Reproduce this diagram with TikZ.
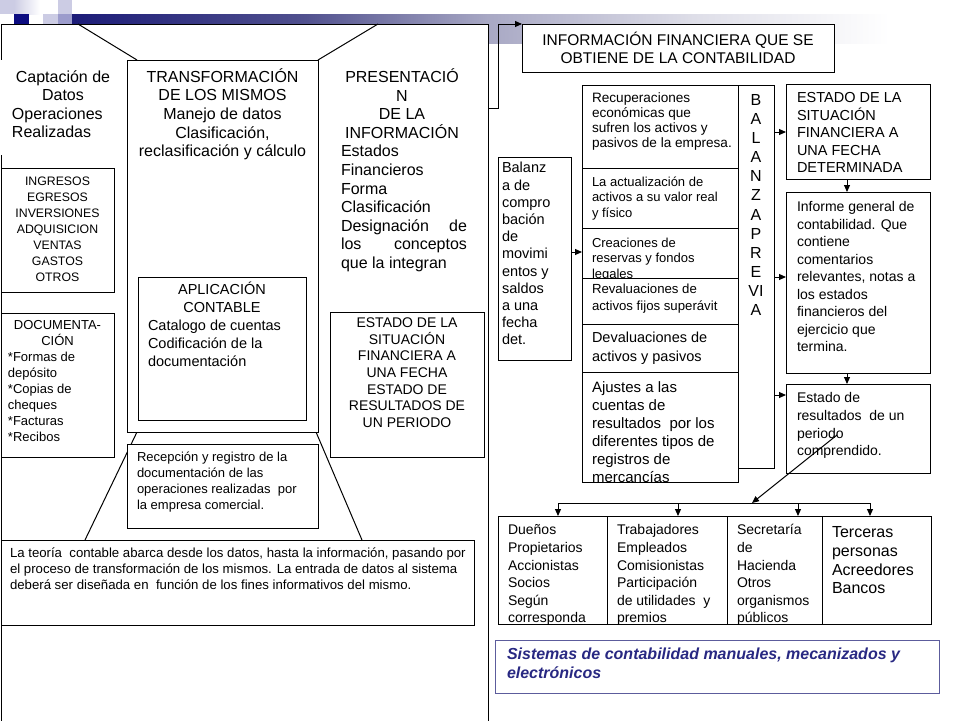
\documentclass[tikz,border=0pt]{standalone}
\usepackage{fontspec}
\setmainfont{Liberation Sans}
\usetikzlibrary{arrows.meta}
\definecolor{navyd}{RGB}{12,12,128}
\definecolor{lav}{RGB}{204,204,228}
\definecolor{lavm}{RGB}{156,156,204}
\definecolor{sisb}{RGB}{92,92,156}
\definecolor{sist}{RGB}{40,40,130}
\definecolor{navyA}{RGB}{28,28,120}
\definecolor{barB}{RGB}{80,80,142}
\definecolor{barC}{RGB}{168,168,196}
\definecolor{barD}{RGB}{222,222,232}
\pgfdeclarehorizontalshading{barshade}{100bp}{color(0bp)=(navyA); color(25bp)=(navyA); color(38bp)=(barB); color(48.4bp)=(barC); color(60bp)=(barD); color(71bp)=(white); color(100bp)=(white)}
\newcommand\fz[2]{\fontsize{#1}{#2}\selectfont}
\newcommand\st{\rule{0pt}{1em}}
\newcommand\bxn[6][]{\node[bx,#1,minimum width={(#5-#3)*1pt},minimum height={(#6-#4)*1pt}] (#2) at (#3,#4) {};}
\begin{document}
\begin{tikzpicture}[x=1pt,y=-1pt,
  bx/.style={draw=black,line width=1pt,fill=white,inner sep=0pt,outer sep=0pt,anchor=north west,rectangle},
  tl/.style={inner sep=0pt,outer sep=0pt,align=left,anchor=north west},
  tc/.style={inner sep=0pt,outer sep=0pt,align=center,anchor=north},
  ln/.style={line width=1pt},
  arr/.style={line width=1pt,-{Triangle[length=7pt,width=6pt]}}]
\useasboundingbox (0,0) rectangle (960,720);
% header decoration
\fill[lav] (0,0) rectangle (14,14);
\shade[left color=lav,right color=white] (14,0) rectangle (40,14);
\fill[navyd] (14,14) rectangle (29,24);
\fill[lav] (43,14) rectangle (58,24);
\fill[lav] (58,0) rectangle (72,14);
\fill[lavm] (58,14) rectangle (72,24);
\shade[shading=barshade] (72,14) rectangle (960,43);
% left panel
\bxn{panel}{1}{24}{488}{740}
\coordinate (t1) at (78,24); \coordinate (t2) at (137,60);
\coordinate (t3) at (378,24); \coordinate (t4) at (318,60);
\coordinate (b1) at (137,432); \coordinate (b2) at (85,540);
\coordinate (b3) at (316,432); \coordinate (b4) at (362,540);
\draw[ln] (t1) -- (t2);
\draw[ln] (t3) -- (t4);
\draw[ln] (b1) -- (b2);
\draw[ln] (b3) -- (b4);
\fill[white] (0,60) rectangle (122,155);
\node[tl,font=\fz{16}{18.5}] (capt) at (12,66.4) {\st\makebox[102pt]{Captación de}\\\makebox[102pt]{Datos}\\Operaciones\\Realizadas};
\bxn{trans}{127}{60}{318}{432}
\node[tc,font=\fz{16}{18.7}] (transT) at (222.5,66.1) {\st TRANSFORMACIÓN\\DE LOS MISMOS\\Manejo de datos\\Clasificación,\\reclasificación y cálculo};
\node[tl,font=\fz{16}{18.6}] (pres) at (341,66.4) {\st\makebox[122pt]{PRESENTACIÓ}\\\makebox[122pt]{N}\\\makebox[122pt]{DE LA}\\\makebox[122pt]{INFORMACIÓN}\\Estados\\Financieros\\Forma\\Clasificación\\\makebox[126pt][s]{Designación\hfill de}\\\makebox[126pt][s]{los\hfill conceptos}\\que la integran};
\bxn{aplic}{138}{277}{306}{420}
\node[tl,font=\fz{14.5}{18}] (aplT) at (148,280.4) {\st\makebox[148pt]{APLICACIÓN}\\\makebox[148pt]{CONTABLE}\\Catalogo de cuentas\\Codificación de la\\documentación};
\bxn{ingr}{1}{168}{114}{292}
\node[tc,font=\fz{12.3}{16}] (ingrT) at (57.5,172.9) {\st INGRESOS\\EGRESOS\\INVERSIONES\\ADQUISICION\\VENTAS\\GASTOS\\OTROS};
\bxn{docu}{1}{313}{114}{457}
\node[tl,font=\fz{13}{16}] (docuT) at (8,316.4) {\st\makebox[99pt]{DOCUMENTA-}\\\makebox[99pt]{CIÓN}\\*Formas de\\depósito\\*Copias de\\cheques\\*Facturas\\*Recibos};
\bxn{estL}{330}{312}{484}{457}
\node[tc,font=\fz{14}{16.7}] (estLT) at (407,313.3) {\st ESTADO DE LA\\SITUACIÓN\\FINANCIERA A\\UNA FECHA\\ESTADO DE\\RESULTADOS DE\\UN PERIODO};
\bxn{recep}{127}{444}{318}{528}
\node[tl,font=\fz{13}{16}] (recepT) at (137,448.4) {\st Recepción y registro de la\\documentación de las\\operaciones realizadas~ por\\la empresa comercial.};
\bxn{teoria}{1}{540}{474}{625}
\node[tl,font=\fz{13.2}{16}] (teoriaT) at (10,544.3) {\st La teoría~ contable abarca desde los datos, hasta la información, pasando por\\el proceso de transformación de los mismos. La entrada de datos al sistema\\deberá ser diseñada en~ función de los fines informativos del mismo.};
% right side
\bxn{info}{522}{24}{834}{72}
\node[tc,font=\fz{15.5}{18}] (infoT) at (678,29.8) {\st INFORMACIÓN FINANCIERA QUE SE\\OBTIENE DE LA CONTABILIDAD};
\bxn{bal}{498}{157}{571}{360}
\node[tl,font=\fz{14.5}{17.2}] (balT) at (502,158.4) {\st Balanz\\a de\\compro\\bación\\de\\movimi\\entos y\\saldos\\a una\\fecha\\det.};
\bxn{cA}{582}{85}{738}{168}
\node[tl,font=\fz{13.6}{15}] (cAT) at (592,89) {\st Recuperaciones\\económicas que\\sufren los activos y\\pasivos de la empresa.};
\bxn{cB}{582}{168}{738}{228}
\node[tl,font=\fz{13}{15.5}] (cBT) at (592,173.4) {\st La actualización de\\activos a su valor real\\y físico};
\bxn{cC}{582}{228}{738}{278}
\node[tl,font=\fz{13}{15.5}] (cCT) at (592,234.4) {\st Creaciones de\\reservas y fondos\\legales};
\bxn{cD}{582}{278}{738}{324}
\node[tl,font=\fz{13.2}{17}] (cDT) at (592,280.3) {\st Revaluaciones de\\activos fijos superávit};
\bxn{cE}{582}{324}{738}{372}
\node[tl,font=\fz{14.5}{19}] (cET) at (592,328.4) {\st Devaluaciones de\\activos y pasivos};
\bxn{cF}{582}{372}{738}{482}
\node[tl,font=\fz{15}{18}] (cFT) at (592,377.1) {\st Ajustes a las\\cuentas de\\resultados~ por los\\diferentes tipos de\\registros de\\mercancías};
\bxn{bp}{738}{85}{774}{468}
\node[tc,font=\fz{16}{19.1}] (bpT) at (756,89.4) {\st B\\A\\L\\A\\N\\Z\\A\\P\\R\\E\\VI\\A};
\bxn{estR}{786}{84}{930}{179}
\node[tl,font=\fz{14.5}{17.5}] (estRT) at (797,88.4) {\st ESTADO DE LA\\SITUACIÓN\\FINANCIERA A\\UNA FECHA\\DETERMINADA};
\bxn{inf}{786}{192}{930}{373}
\node[tl,font=\fz{14}{17.5}] (infT) at (797,197.8) {\st Informe general de\\contabilidad. Que\\contiene\\comentarios\\relevantes, notas a\\los estados\\financieros del\\ejercicio que\\termina.};
\bxn{res}{786}{384}{930}{473}
\node[tl,font=\fz{14}{17.7}] (resT) at (797,388.8) {\st Estado de\\resultados~ de un\\periodo\\comprendido.};
\bxn{o1}{498}{516}{607}{624}
\node[tl,font=\fz{14}{17.6}] (o1T) at (508,520.8) {\st Dueños\\Propietarios\\Accionistas\\Socios\\Según\\corresponda};
\bxn{o2}{607}{516}{727}{624}
\node[tl,font=\fz{14}{17.6}] (o2T) at (617,520.8) {\st Trabajadores\\Empleados\\Comisionistas\\Participación\\de utilidades~ y\\premios};
\bxn{o3}{727}{516}{822}{624}
\node[tl,font=\fz{14}{17.6}] (o3T) at (737,520.8) {\st Secretaría\\de\\Hacienda\\Otros\\organismos\\públicos};
\bxn{o4}{822}{516}{931}{624}
\node[tl,font=\fz{16}{18.8}] (o4T) at (832,521.4) {\st Terceras\\personas\\Acreedores\\Bancos};
\bxn[draw=sisb]{sis}{495}{640}{939}{693}
\node[tl,font=\fz{16}{19}\bfseries\itshape,text=sist] (sisT) at (507,643.4) {\st Sistemas de contabilidad manuales, mecanizados y\\electrónicos};
% connectors
\coordinate (pout) at (488,108);
\draw[arr] (pout) -- ++(10,0) |- (info.north west);
\coordinate (bo) at (571,252);
\draw[arr] (bo) -- (bo -| cC.west);
\coordinate (q1) at (774,132);
\draw[arr] (q1) -- (q1 -| estR.west);
\coordinate (q2) at (774,277);
\draw[arr] (q2) -- (q2 -| inf.west);
\coordinate (q3) at (774,395);
\draw[arr] (q3) -- (q3 -| res.west);
\coordinate (v1) at (847,179);
\draw[arr] (v1) -- (v1 |- inf.north);
\coordinate (v2) at (847,373);
\draw[arr] (v2) -- (v2 |- res.north);
\coordinate (dg) at (837,435);
\coordinate (hub) at (752,503);
\draw[arr] (dg) -- (hub);
\coordinate (hl) at (558,503);
\coordinate (hr) at (870,503);
\draw[ln] (hl) -- (hr);
\foreach \xx/\tg in {558/o1,678/o2,798/o3,870/o4}{
  \coordinate (dd) at (\xx,503);
  \draw[arr] (dd) -- (dd |- \tg.north);
}
\end{tikzpicture}
\end{document}
